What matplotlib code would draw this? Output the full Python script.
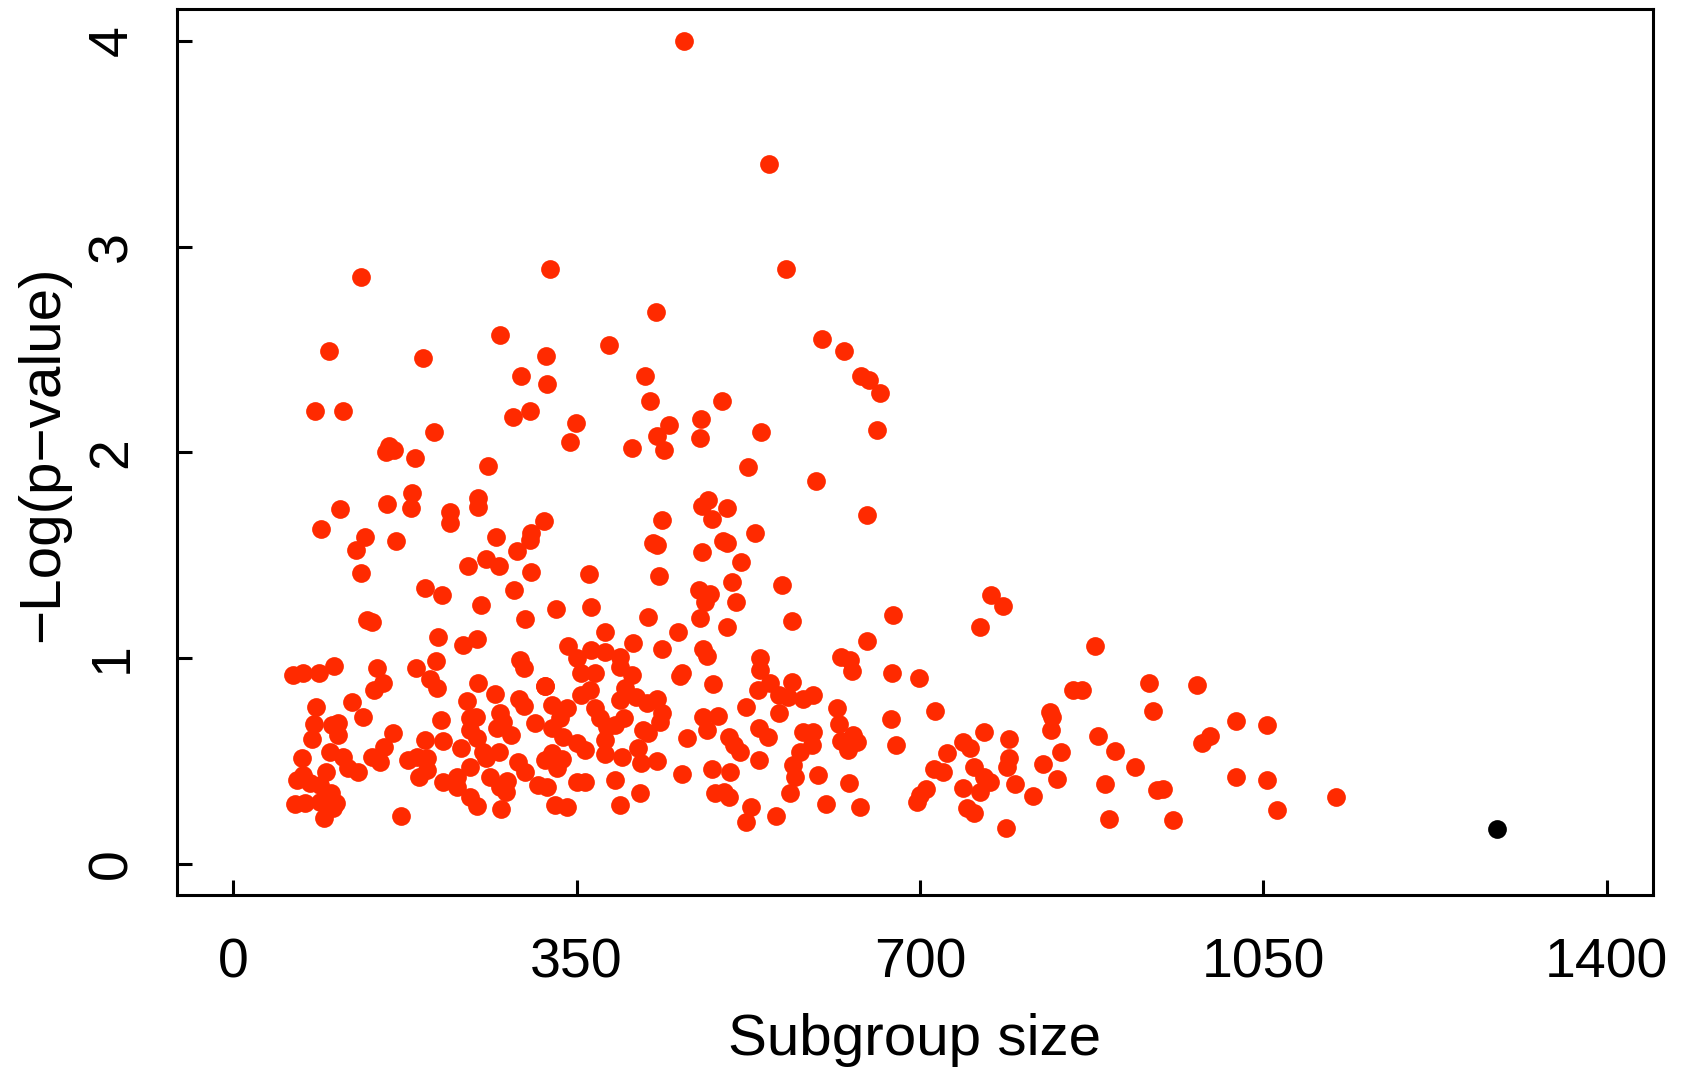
import matplotlib
matplotlib.use("Agg")
import matplotlib.pyplot as plt

plt.rcParams['font.family'] = ['Liberation Sans', 'DejaVu Sans']

# red points: subgroup size (x) and -log(p) (y)
subgroup_size = [
    460, 546, 564, 323, 130, 431, 272, 600, 383, 98, 623, 319, 193, 640, 648, 293, 420, 320, 659, 425,
    498, 83, 112, 302, 285, 477, 349, 444, 656, 538, 205, 432, 476, 343, 159, 406, 164, 439, 156, 185,
    260, 525, 594, 182, 249, 484, 157, 478, 503, 109, 181, 249, 221, 646, 488, 317, 437, 221, 89, 532,
    304, 268, 134, 302, 499, 166, 428, 503, 432, 125, 478, 289, 258, 518, 130, 434, 363, 239, 304, 559,
    508, 475, 286, 195, 213, 486, 772, 481, 513, 253, 785, 365, 329, 673, 136, 476, 141, 570, 297, 423,
    271,
    209, 234.5, 248, 61, 71, 87, 103, 147, 153, 143, 186, 207, 201, 208, 292, 296, 250, 267, 238, 291,
    296, 318, 84, 121, 132, 82, 101, 107, 107, 80, 162.5, 212, 195, 213.5, 241, 247.5, 241, 248, 272, 275,
    268.5, 283, 307.6, 232, 255, 258, 271, 290, 297, 318, 154, 141, 150, 178.5, 187, 197, 189, 197, 70, 99,
    111.5, 117, 127.5, 95, 65, 71, 78, 88, 100, 63, 73, 88, 105, 102, 93, 171, 214, 228, 228, 241,
    241, 248, 262, 272, 279, 278, 273, 311,
    379, 341, 365, 379, 408, 453, 437, 479, 483, 503, 350, 355, 369, 394, 394, 406, 318, 355, 364, 399,
    394, 411, 421.5, 432, 437, 435, 457, 455, 489, 325, 340, 333, 325, 336.5, 350, 358.6, 325, 335, 330, 319.5,
    328, 340, 350, 358.6, 369, 374, 381, 379, 379, 389, 398, 396, 413, 416, 432, 418, 423, 389, 394, 415,
    457, 463, 479, 483, 494.5, 505, 510, 517, 488, 506, 491, 500, 505, 527.5, 523, 553, 523, 537, 537, 547,
    535, 556, 566, 570, 581, 591, 556, 536, 545.5, 536, 581, 591, 578, 571, 573, 568, 596.5,
    761, 646, 620, 629, 631, 672, 699, 615, 618, 590, 620, 632, 636, 627, 671, 676, 715.5, 628, 604, 639,
    697, 706, 700, 714, 724, 728, 744, 751, 765, 755, 765, 771.5, 744, 761, 748, 755, 791, 791, 789, 797,
    815, 788, 826, 839.5, 844, 834, 835, 833, 856.5, 865,
    879, 934, 983, 938, 1022, 1054, 882, 899, 919, 996, 988, 889, 941.5, 948, 1022, 1054, 1064, 1124, 893, 958,
]
neg_log_p = [
    4.00, 3.40, 2.89, 2.89, 2.85, 2.68, 2.57, 2.55, 2.52, 2.49, 2.49, 2.47, 2.46, 2.37, 2.35, 2.37, 2.37, 2.33, 2.29, 2.25,
    2.25, 2.20, 2.20, 2.20, 2.17, 2.16, 2.14, 2.13, 2.11, 2.10, 2.10, 2.08, 2.07, 2.05, 2.03, 2.02, 2.01, 2.01, 2.00, 1.97,
    1.935, 1.93, 1.86, 1.80, 1.775, 1.77, 1.75, 1.74, 1.73, 1.725, 1.73, 1.735, 1.71, 1.695, 1.675, 1.665, 1.67, 1.655, 1.627, 1.605,
    1.605, 1.59, 1.59, 1.575, 1.57, 1.57, 1.56, 1.56, 1.55, 1.525, 1.516, 1.52, 1.48, 1.465, 1.413, 1.40, 1.41, 1.448, 1.417, 1.355,
    1.37, 1.33, 1.33, 1.338, 1.306, 1.312, 1.307, 1.272, 1.273, 1.256, 1.254, 1.249, 1.24, 1.208, 1.185, 1.192, 1.175, 1.177, 1.188, 1.199,
    1.447,
    1.103, 1.062, 1.092, 0.917, 0.928, 0.928, 0.962, 0.952, 0.876, 0.844, 0.952, 0.985, 0.895, 0.852, 0.989, 0.949, 0.876, 0.824, 0.792, 0.800,
    0.766, 0.863, 0.759, 0.787, 0.714, 0.678, 0.673, 0.682, 0.625, 0.604, 0.636, 0.698, 0.600, 0.597, 0.706, 0.714, 0.649, 0.609, 0.730, 0.690,
    0.657, 0.625, 0.685, 0.560, 0.544, 0.511, 0.544, 0.495, 0.446, 0.503, 0.568, 0.519, 0.495, 0.503, 0.519, 0.511, 0.422, 0.455, 0.511, 0.544,
    0.519, 0.463, 0.446, 0.446, 0.406, 0.430, 0.390, 0.382, 0.341, 0.288, 0.292, 0.301, 0.292, 0.268, 0.220, 0.231, 0.398, 0.422, 0.373, 0.471,
    0.325, 0.279, 0.422, 0.373, 0.401, 0.349, 0.263, 0.382,
    1.127, 1.058, 1.038, 1.030, 1.074, 1.124, 1.043, 1.041, 1.009, 1.152, 0.998, 0.925, 0.928, 1.006, 0.957, 0.917, 0.865, 0.819, 0.844, 0.852,
    0.795, 0.811, 0.779, 0.800, 0.730, 0.690, 0.925, 0.912, 0.873, 0.771, 0.754, 0.706, 0.657, 0.617, 0.584, 0.552, 0.536, 0.506, 0.463, 0.373,
    0.284, 0.276, 0.398, 0.398, 0.754, 0.706, 0.665, 0.600, 0.532, 0.673, 0.706, 0.519, 0.560, 0.487, 0.500, 0.649, 0.633, 0.406, 0.284, 0.341,
    0.435, 0.609, 0.711, 0.649, 0.717, 0.617, 0.576, 0.544, 0.458, 0.446, 0.341, 0.349, 0.325, 0.276, 0.200, 0.232, 0.759, 0.998, 0.941, 0.876,
    0.844, 0.819, 0.811, 0.884, 0.800, 0.819, 0.733, 0.657, 0.613, 0.503, 0.641, 0.641, 0.544, 0.479, 0.422, 0.341, 0.430,
    1.152, 1.083, 1.002, 0.989, 0.938, 0.928, 0.900, 0.754, 0.677, 0.576, 0.597, 0.625, 0.592, 0.552, 0.701, 0.576, 0.743, 0.390, 0.288, 0.276,
    0.301, 0.361, 0.333, 0.459, 0.446, 0.539, 0.592, 0.560, 0.641, 0.471, 0.422, 0.398, 0.365, 0.349, 0.268, 0.247, 0.605, 0.515, 0.468, 0.386,
    0.330, 0.171, 0.484, 0.409, 0.540, 0.649, 0.714, 0.738, 0.844, 0.844,
    1.058, 0.880, 0.867, 0.740, 0.695, 0.674, 0.622, 0.549, 0.471, 0.620, 0.588, 0.387, 0.358, 0.361, 0.421, 0.406, 0.261, 0.324, 0.215, 0.210,
]

# highlighted (black) point
highlight_size = [1288]
highlight_logp = [0.167]

x_ticks = [0, 350, 700, 1050, 1400]
y_ticks = [0, 1, 2, 3, 4]

fig = plt.figure(figsize=(16.86, 10.71), dpi=100)
ax = fig.add_axes([0.1052, 0.1647, 0.875, 0.8273])

ax.plot(subgroup_size, neg_log_p, 'o', color='#FF2A00', markersize=13.5,
        markeredgewidth=0, linestyle='none')
ax.plot(highlight_size, highlight_logp, 'o', color='black', markersize=13.5,
        markeredgewidth=0, linestyle='none')

ax.set_xlim(-57, 1447)
ax.set_ylim(-0.151, 4.157)
ax.set_xticks(x_ticks)
ax.set_xticklabels([str(t) for t in x_ticks])
ax.set_yticks(y_ticks)
ax.set_yticklabels([str(t) for t in y_ticks], rotation=90, va='center')

for s in ax.spines.values():
    s.set_linewidth(2.2)
ax.tick_params(axis='both', direction='in', length=11, width=2.2, labelsize=40)
ax.tick_params(axis='x', pad=31)
ax.tick_params(axis='y', pad=28)

ax.set_xlabel('Subgroup size', fontsize=42)
ax.xaxis.set_label_coords(0.5, -0.164)
ax.xaxis.label.set_va('center')
ax.set_ylabel('\u2212Log(p\u2212value)', fontsize=42)
ax.yaxis.set_label_coords(-0.0911, 0.497)
ax.yaxis.label.set_va('center')

fig.savefig('out.png', dpi=100)
